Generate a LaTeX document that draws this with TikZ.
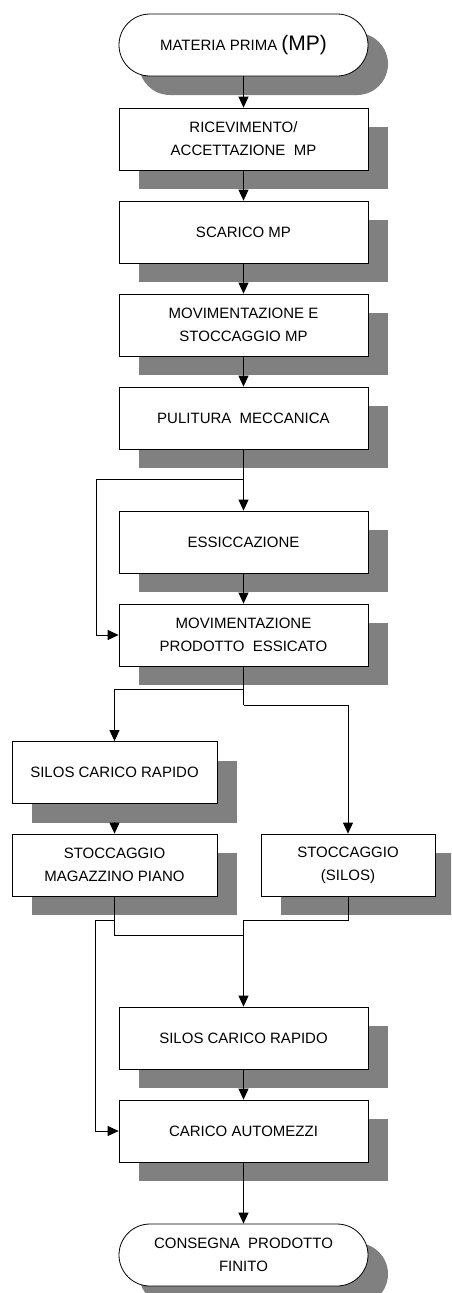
\documentclass[tikz,border=0pt]{standalone}
\usepackage{fontspec}
\setmainfont{Liberation Sans}
\usetikzlibrary{shadows,arrows.meta}
\definecolor{shadowgray}{RGB}{128,128,128}
\tikzset{
  base/.style={draw=black, line width=0.8pt, fill=white, inner sep=0pt, align=center,
    font=\fontsize{15}{23}\selectfont,
    drop shadow={shadow xshift=20pt, shadow yshift=-19pt, fill=shadowgray, opacity=1}},
  proc/.style={base, rectangle, minimum width=249pt, minimum height=62pt},
  procs/.style={base, rectangle, minimum width=205pt, minimum height=62pt},
  procn/.style={base, rectangle, minimum width=174pt, minimum height=62pt},
  term/.style={base, rectangle, rounded corners=31pt, minimum width=249pt, minimum height=62pt},
  flow/.style={line width=0.8pt, -{Triangle[length=11pt,width=10pt]}},
  line/.style={line width=0.8pt}
}
\begin{document}
\begin{tikzpicture}[x=1pt,y=-1pt]
\clip (0,0) rectangle (451,1293);
\fill[white] (0,0) rectangle (451,1293);

% main column
\node[term] (mp)   at (243.5,45)   {MATERIA PRIMA {\fontsize{21}{23}\selectfont(MP)}};
\node[proc] (ric)  at (243.5,139)  {RICEVIMENTO/\\ACCETTAZIONE\ \ MP};
\node[proc] (sca)  at (243.5,232)  {SCARICO MP};
\node[proc] (mov)  at (243.5,325)  {MOVIMENTAZIONE E\\STOCCAGGIO MP};
\node[proc] (pul)  at (243.5,418)  {PULITURA\ \ MECCANICA};
\node[proc] (ess)  at (243.5,542)  {ESSICCAZIONE};
\node[proc] (movp) at (243.5,635)  {MOVIMENTAZIONE\\PRODOTTO\ \ ESSICATO};

% storage branches
\node[procs] (silA) at (114.5,772.5) {SILOS\ CARICO RAPIDO};
\node[procs] (stoA) at (114.5,865)   {STOCCAGGIO\\MAGAZZINO PIANO};
\node[procn] (stoB) at (348,865)     {STOCCAGGIO\\(SILOS)};

% loading and delivery
\node[proc] (silB) at (243.5,1038) {SILOS\ CARICO RAPIDO};
\node[proc] (car)  at (243.5,1131) {CARICO AUTOMEZZI};
\node[term] (cons) at (243.5,1255) {CONSEGNA\ \ PRODOTTO\\FINITO};

% junction points
\coordinate (bypass)  at (243.5,479);
\coordinate (bypassL) at (96,479);
\coordinate (splitL)  at (243.5,689);
\coordinate (splitR)  at (243.5,705);
\coordinate (silAbot) at (114.5,822);
\coordinate (tapA)    at (114.5,920);
\coordinate (tapAL)   at (95,920);
\coordinate (mergeA)  at (243.5,935);
\coordinate (mergeB)  at (243.5,920);

% connectors
\draw[flow] (mp) -- (ric);
\draw[flow] (ric) -- (sca);
\draw[flow] (sca) -- (mov);
\draw[flow] (mov) -- (pul);
\draw[flow] (pul) -- (ess);
\draw[line] (bypass) -- (bypassL);
\draw[flow] (bypassL) |- (movp.west);
\draw[flow] (ess) -- (movp);
\draw[line] (movp.south) -- (splitR);
\draw[flow] (splitL) -| (silA.north);
\draw[flow] (splitR) -| (stoB.north);
\draw[flow] (silAbot) -- (stoA.north);
\draw[line] (stoA.south) |- (mergeA);
\draw[line] (tapA) -- (tapAL);
\draw[flow] (tapAL) |- (car.west);
\draw[flow] (stoB.south) |- (mergeB) -- (silB.north);
\draw[flow] (silB) -- (car);
\draw[flow] (car) -- (cons);
\end{tikzpicture}
\end{document}
